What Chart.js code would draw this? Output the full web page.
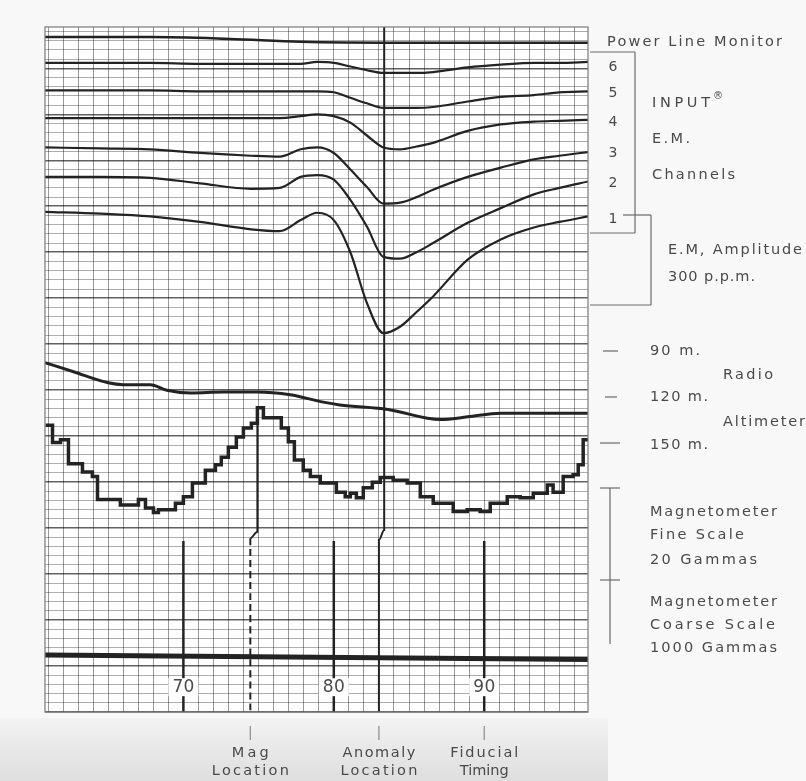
<!DOCTYPE html>
<html>
<head>
<meta charset="utf-8">
<script src="https://cdn.jsdelivr.net/npm/chart.js@4.4.1/dist/chart.umd.min.js"></script>
<style>
html, body { margin: 0; padding: 0; background: #f8f8f8; }
</style>
</head>
<body>
<canvas id="c" width="806" height="781"></canvas>
<script>
// fiducial numbers along x, chart divisions along y (0 = bottom edge of the paper)
const xMin = 60.8, xMax = 96.9;
const yMin = 0, yMax = 74.5;

// E.M. channels, all read at the same fiducial positions
const emX = [60.8, 64.5, 67.8, 71.1, 74.5, 76.4, 77.8, 78.9, 80.0, 81.1, 82.2, 83.3, 84.4, 85.5, 86.6, 88.9, 91.1, 93.3, 95.0, 96.9];
const ch6 = [70.6, 70.6, 70.6, 70.5, 70.5, 70.5, 70.5, 70.7, 70.6, 70.2, 69.8, 69.5, 69.5, 69.5, 69.6, 70.1, 70.4, 70.6, 70.6, 70.7];
const ch5 = [67.6, 67.6, 67.6, 67.5, 67.5, 67.5, 67.5, 67.5, 67.4, 66.8, 66.2, 65.7, 65.7, 65.7, 65.8, 66.4, 66.9, 67.1, 67.4, 67.5];
const ch4 = [64.6, 64.6, 64.6, 64.6, 64.6, 64.6, 64.8, 65.0, 64.8, 64.1, 62.7, 61.4, 61.2, 61.5, 61.9, 63.2, 63.9, 64.2, 64.3, 64.4];
const ch3 = [61.4, 61.3, 61.2, 60.8, 60.5, 60.4, 61.2, 61.4, 60.8, 59.0, 57.1, 55.3, 55.4, 56.0, 56.8, 58.2, 59.2, 60.1, 60.5, 60.9];
const ch2 = [58.2, 58.2, 58.1, 57.5, 56.9, 57.0, 58.2, 58.4, 57.9, 55.7, 52.8, 49.5, 49.3, 50.0, 51.0, 53.2, 54.8, 56.3, 57.0, 57.7];
const ch1 = [54.4, 54.2, 53.9, 53.3, 52.5, 52.3, 53.5, 54.3, 53.5, 50.0, 44.5, 41.2, 41.9, 43.5, 45.2, 49.2, 51.4, 52.7, 53.3, 53.9];

// power line monitor
const plmX = [60.8, 67.8, 73.1, 77.8, 84.4, 91.1, 96.9];
const plmY = [73.4, 73.4, 73.2, 72.9, 72.8, 72.8, 72.8];

// radio altimeter
const altX = [60.8, 62.7, 65.0, 66.0, 67.8, 68.9, 70.5, 72.7, 74.9, 77.1, 79.3, 80.4, 83.6, 87.1, 88.9, 91.1, 93.7, 96.9];
const altY = [38.0, 37.0, 35.8, 35.6, 35.6, 35.0, 34.7, 34.8, 34.8, 34.5, 33.7, 33.4, 32.9, 31.8, 32.1, 32.5, 32.5, 32.5];

// magnetometer fine scale (stepped record)
const magX = [60.83, 61.30, 61.83, 62.36, 63.29, 63.95, 64.29, 65.81, 67.01, 67.48, 68.01, 68.34, 69.47, 70.00, 70.60, 71.46,
  72.13, 72.52, 72.99, 73.52, 73.99, 74.52, 74.92, 75.32, 76.51, 76.98, 77.38, 77.97, 78.44, 79.10, 80.17, 80.76, 81.10,
  81.50, 81.96, 82.56, 83.09, 83.95, 84.88, 85.75, 86.61, 87.94, 88.87, 89.73, 90.40, 91.53, 92.39, 93.26, 94.19, 94.58,
  95.25, 95.91, 96.25, 96.58, 96.91];
const magY = [31.2, 29.3, 29.6, 27.0, 26.1, 25.6, 23.1, 22.5, 23.1, 22.2, 21.7, 22.0, 22.7, 23.4, 24.9, 26.3,
  26.9, 27.7, 28.8, 29.9, 30.9, 31.4, 33.1, 32.0, 30.9, 29.4, 27.4, 26.3, 25.6, 24.9, 23.9, 23.4, 23.8,
  23.3, 24.4, 25.0, 25.5, 25.2, 24.9, 23.4, 22.7, 21.8, 22.0, 21.8, 22.7, 23.4, 23.3, 23.8, 24.7, 23.9,
  25.6, 25.8, 26.9, 29.6, 29.6];

// magnetometer coarse scale
const coarseX = [60.8, 96.9];
const coarseY = [6.2, 5.7];

// fiducial timing marks
const fidX = [70, 80, 90];
const fidTop = 18.6;

// anomaly and mag location lines
const anomX = [83.35, 83.35, 83.0, 83.0];
const anomY = [74.5, 19.8, 18.7, 0];
const magLocX = [74.92, 74.92, 74.45, 74.45];
const magLocY = [33.1, 19.6, 18.9, 0];

// labels
const fidLabels = [70, 80, 90];
const markerPos = [74.45, 83.0, 90];
const markerText = [['Mag', 'Location'], ['Anomaly', 'Location'], ['Fiducial', 'Timing']];
const markerWidth = [[37, 77], [73, 77], [68, 47]];
const channelNames = ['6', '5', '4', '3', '2', '1'];

const ink = '#232323';
const textCol = '#4a4a4a';
const lineCol = '#6a6a6a';
const fontFam = '"DejaVu Sans", "Liberation Sans", sans-serif';

const pts = (xs, ys) => xs.map((x, i) => ({x: x, y: ys[i]}));

function trace(data, width, extra) {
  return Object.assign({
    data: data,
    borderColor: ink,
    borderWidth: width,
    pointRadius: 0,
    fill: false,
    tension: 0.4,
    cubicInterpolationMode: 'monotone'
  }, extra || {});
}

const datasets = [
  trace(pts(plmX, plmY), 2.5),
  trace(pts(emX, ch6), 2.2),
  trace(pts(emX, ch5), 2.2),
  trace(pts(emX, ch4), 2.2),
  trace(pts(emX, ch3), 2.2),
  trace(pts(emX, ch2), 2.2),
  trace(pts(emX, ch1), 2.2),
  trace(pts(altX, altY), 3),
  trace(pts(magX, magY), 3.5, {stepped: true, tension: 0}),
  trace(pts(coarseX, coarseY), 5, {tension: 0}),
  trace(pts(anomX, anomY), 2, {tension: 0}),
  trace(pts(magLocX, magLocY), 2, {
    tension: 0,
    segment: { borderDash: c => c.p0DataIndex >= 2 ? [7, 4] : undefined }
  })
];
fidX.forEach(f => datasets.push(trace([{x: f, y: fidTop}, {x: f, y: 0}], 2.5, {tension: 0})));

// spread text out to a given width, like the typeset labels on the record
function spaced(ctx, str, x, y, w, size, align) {
  ctx.font = size + 'px ' + fontFam;
  ctx.letterSpacing = '0px';
  const base = ctx.measureText(str).width;
  const ls = w ? Math.max(0, (w - base) / Math.max(1, str.length - 1)) : 0;
  ctx.letterSpacing = ls + 'px';
  ctx.textBaseline = 'middle';
  ctx.textAlign = 'left';
  const total = base + ls * (str.length - 1);
  const x0 = align === 'center' ? x - total / 2 : x;
  ctx.fillText(str, x0, y);
  ctx.letterSpacing = '0px';
}

function seg(ctx, x1, y1, x2, y2) {
  ctx.beginPath();
  ctx.moveTo(x1, y1);
  ctx.lineTo(x2, y2);
  ctx.stroke();
}

const paperPlugin = {
  id: 'paper',
  beforeDraw(chart) {
    const ctx = chart.ctx;
    const a = chart.chartArea;
    ctx.save();
    ctx.fillStyle = '#f8f8f8';
    ctx.fillRect(0, 0, chart.width, chart.height);
    const g = ctx.createLinearGradient(0, a.bottom, 0, chart.height);
    g.addColorStop(0, '#f4f4f4');
    g.addColorStop(1, '#dedede');
    ctx.fillStyle = g;
    ctx.fillRect(0, a.bottom + 6, a.right + 20, chart.height - a.bottom - 6);
    ctx.fillStyle = '#ffffff';
    ctx.fillRect(a.left, a.top, a.right - a.left, a.bottom - a.top);
    ctx.restore();
  },
  afterDraw(chart) {
    const ctx = chart.ctx;
    const a = chart.chartArea;
    const xs = chart.scales.x;
    const ys = chart.scales.y;
    ctx.save();

    // frame
    ctx.strokeStyle = '#7a7a7a';
    ctx.lineWidth = 1.2;
    ctx.strokeRect(a.left, a.top, a.right - a.left, a.bottom - a.top);

    // fiducial numbers inside the paper
    fidLabels.forEach(v => {
      const px = xs.getPixelForValue(v);
      const py = ys.getPixelForValue(2.7);
      ctx.fillStyle = '#ffffff';
      ctx.fillRect(px - 15, py - 9, 30, 18);
      ctx.fillStyle = '#4a4a4a';
      spaced(ctx, String(v), px, py, 22, 17, 'center');
    });

    // markers under the paper
    ctx.strokeStyle = '#8a8a8a';
    ctx.lineWidth = 1.2;
    ctx.fillStyle = textCol;
    markerPos.forEach((v, i) => {
      const px = xs.getPixelForValue(v);
      seg(ctx, px, a.bottom + 14, px, a.bottom + 28);
      spaced(ctx, markerText[i][0], px, a.bottom + 41, markerWidth[i][0], 14.5, 'center');
      spaced(ctx, markerText[i][1], px, a.bottom + 59, markerWidth[i][1], 14.5, 'center');
    });

    // right hand legend
    const R = a.right;
    ctx.strokeStyle = lineCol;
    ctx.lineWidth = 1.2;
    // channel box
    seg(ctx, R + 2, 52, R + 47, 52);
    seg(ctx, R + 47, 52, R + 47, 233);
    seg(ctx, R + 2, 233, R + 47, 233);
    // amplitude bracket
    seg(ctx, R + 35, 215, R + 63, 215);
    seg(ctx, R + 63, 215, R + 63, 305);
    seg(ctx, R + 2, 305, R + 63, 305);
    // altimeter marks
    seg(ctx, R + 15, 351, R + 30, 351);
    seg(ctx, R + 17, 397, R + 29, 397);
    seg(ctx, R + 12, 443, R + 32, 443);
    // magnetometer scale bar
    seg(ctx, R + 22, 488, R + 22, 644);
    seg(ctx, R + 12, 488, R + 32, 488);
    seg(ctx, R + 12, 580, R + 32, 580);

    ctx.fillStyle = textCol;
    spaced(ctx, 'Power Line Monitor', R + 19, 42, 175, 14.5);
    const chY = [67, 93, 122, 153, 183, 219];
    channelNames.forEach((n, i) => spaced(ctx, n, R + 25, chY[i], 0, 14, 'center'));
    spaced(ctx, 'INPUT', R + 64, 103, 58, 14.5);
    spaced(ctx, '\u00AE', R + 125, 96, 0, 10);
    spaced(ctx, 'E.M.', R + 64, 139, 38, 14.5);
    spaced(ctx, 'Channels', R + 64, 175, 83, 14.5);
    spaced(ctx, 'E.M, Amplitude', R + 80, 250, 134, 14.5);
    spaced(ctx, '300 p.p.m.', R + 80, 277, 87, 14.5);
    spaced(ctx, '90 m.', R + 62, 351, 50, 14.5);
    spaced(ctx, 'Radio', R + 135, 375, 50, 14.5);
    spaced(ctx, '120 m.', R + 62, 397, 58, 14.5);
    spaced(ctx, 'Altimeter', R + 135, 422, 82, 14.5);
    spaced(ctx, '150 m.', R + 62, 445, 58, 14.5);
    spaced(ctx, 'Magnetometer', R + 62, 512, 127, 14.5);
    spaced(ctx, 'Fine Scale', R + 62, 535, 94, 14.5);
    spaced(ctx, '20 Gammas', R + 62, 560, 107, 14.5);
    spaced(ctx, 'Magnetometer', R + 62, 602, 127, 14.5);
    spaced(ctx, 'Coarse Scale', R + 62, 625, 125, 14.5);
    spaced(ctx, '1000 Gammas', R + 62, 648, 127, 14.5);

    ctx.restore();
  }
};

new Chart(document.getElementById('c'), {
  type: 'line',
  data: { datasets: datasets },
  options: {
    responsive: false,
    animation: false,
    events: [],
    layout: { padding: { left: 45, top: 27, right: 218, bottom: 69 } },
    plugins: { legend: { display: false }, tooltip: { enabled: false } },
    scales: {
      x: {
        type: 'linear',
        min: xMin,
        max: xMax,
        ticks: { display: false, stepSize: 1, includeBounds: false },
        grid: { color: 'rgba(0,0,0,0.4)', lineWidth: 1, drawTicks: false },
        border: { display: false },
        afterFit(s) { s.height = 0; }
      },
      y: {
        type: 'linear',
        min: yMin,
        max: yMax,
        ticks: { display: false, stepSize: 1, includeBounds: false },
        grid: {
          color: c => (c.tick && c.tick.value % 5 === 0) ? 'rgba(0,0,0,0.62)' : 'rgba(0,0,0,0.32)',
          lineWidth: c => (c.tick && c.tick.value % 5 === 0) ? 1.6 : 1,
          drawTicks: false
        },
        border: { display: false },
        afterFit(s) { s.width = 0; }
      }
    }
  },
  plugins: [paperPlugin]
});
</script>
</body>
</html>
